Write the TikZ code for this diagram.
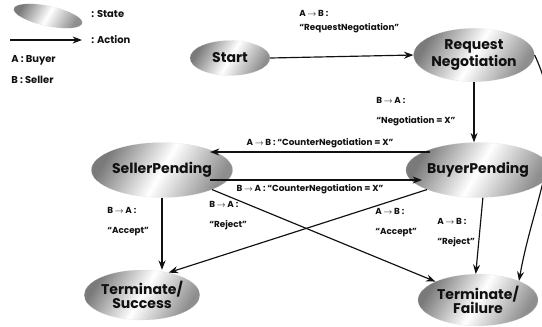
\documentclass[tikz,border=0pt]{standalone}
\usepackage{fontspec}
\setmainfont{Poppins}
\usepackage{tikz}
\usetikzlibrary{positioning,arrows.meta,calc,shapes.geometric}
\definecolor{rimgray}{HTML}{7A7A7A}
\definecolor{inkdark}{HTML}{111111}
\newcommand{\AaB}{A\,$\rightarrow$\,B}
\newcommand{\BaA}{B\,$\rightarrow$\,A}

\begin{document}
\begin{tikzpicture}[x=0.03cm,y=-0.03cm,
    estado/.style={ellipse,inner sep=0pt,align=center,
      top color=rimgray,bottom color=rimgray!85,middle color=white,
      shading angle=60,draw=gray!35,densely dotted,
      font=\bfseries\fontsize{12}{12.5}\selectfont,text=inkdark},
    accion/.style={-{Stealth[length=8pt,width=6pt]},line width=1pt,inkdark},
    etiq/.style={font=\bfseries\fontsize{7.5}{9}\selectfont,align=left,
      inner sep=1pt,text=inkdark},
    leyenda/.style={font=\bfseries\fontsize{8.5}{9}\selectfont,anchor=west,
      inner sep=1pt,text=inkdark}]
  \useasboundingbox (0,0) rectangle (542,326);
  % Leyenda
  \node[estado,minimum width=2.1cm,minimum height=0.6cm,rotate=-12]
    (lgstate) at (48,16) {};
  \node[leyenda] (lgstatetxt) at (90,14) {: State};
  \coordinate (lgini) at (10,40);
  \coordinate (lgfin) at (82,40);
  \draw[accion] (lgini) -- (lgfin);
  \node[leyenda] (lgaction) at (90,40) {: Action};
  \node[leyenda] (lgbuyer) at (10,60) {A : Buyer};
  \node[leyenda] (lgseller) at (10,80) {B : Seller};
  % Estados
  \node[estado,minimum width=2.4cm,minimum height=1.05cm] (start) at (230,58) {Start};
  \node[estado,minimum width=3.05cm,minimum height=1.6cm] (reqneg) at (474,55) {Request\\Negotiation};
  \node[estado,minimum width=3.45cm,minimum height=1.65cm] (seller) at (162,170) {SellerPending};
  \node[estado,minimum width=3.45cm,minimum height=1.65cm] (buyer) at (478,170) {BuyerPending};
  \node[estado,minimum width=3.3cm,minimum height=1.5cm] (success) at (142,295) {Terminate/\\Success};
  \node[estado,minimum width=3.6cm,minimum height=1.55cm] (failure) at (478,300) {Terminate/\\Failure};
  % Acciones
  \draw[accion] (start.east) -- (reqneg.west);
  \draw[accion] (reqneg.south) -- (reqneg.south |- buyer.north);
  \draw[accion] (reqneg.east) to[out=-65,in=80] (failure.25);
  \draw[accion] ($(buyer)+(-48,-18)$) -- ($(seller)+(48,-18)$);
  \draw[accion] ($(seller)+(48,10)$) -- ($(buyer)+(-56,10)$);
  \draw[accion] (seller.south) -- (seller.south |- success.north);
  \draw[accion] (seller.south east) -- (failure.north west);
  \draw[accion] (buyer.south west) -- (success.40);
  \draw[accion] (buyer.-80) -- (failure.95);
  % Etiquetas
  \node[etiq,anchor=west] (lreq) at (298,22) {\AaB\ :\\[3pt]“RequestNegotiation”};
  \node[etiq,anchor=north west] (lneg) at (375,96) {\BaA\ :\\[8pt]“Negotiation = X”};
  \node[etiq] (lcntab) at (320,143) {\AaB\ : “CounterNegotiation = X”};
  \node[etiq] (lcntba) at (310,189) {\BaA\ : “CounterNegotiation = X”};
  \node[etiq,anchor=north west] (lacsel) at (106,206) {\BaA\ :\\[8pt]“Accept”};
  \node[etiq,anchor=north west] (lrjsel) at (208,200) {\BaA\ :\\[8pt]“Reject”};
  \node[etiq,anchor=north west] (lacbuy) at (374,207) {\AaB\ :\\[8pt]“Accept”};
  \node[etiq,anchor=north west] (lrjbuy) at (436,217) {\AaB\ :\\[8pt]“Reject”};
\end{tikzpicture}
\end{document}
